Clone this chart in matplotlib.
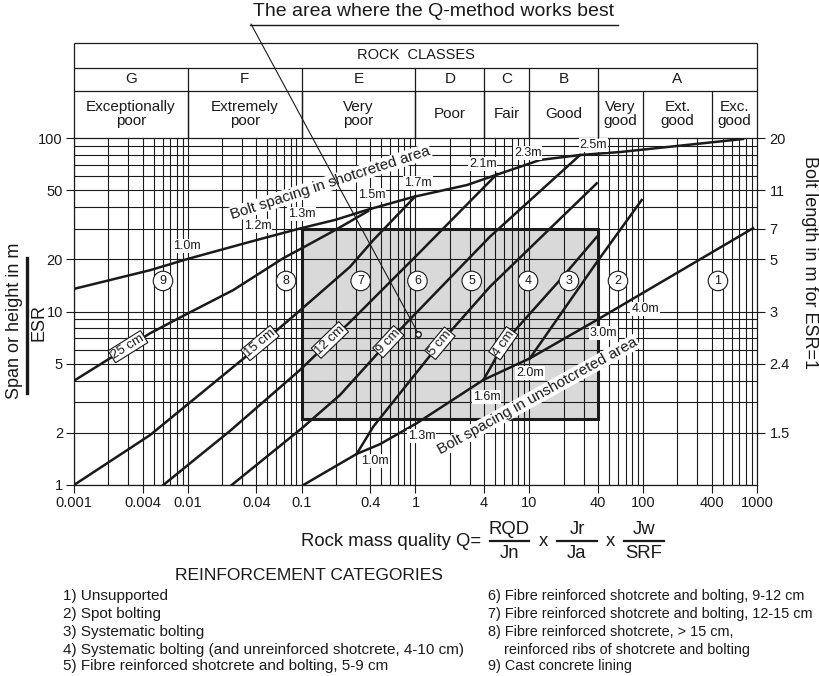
import numpy as np
import matplotlib.pyplot as plt
from matplotlib.lines import Line2D
from matplotlib.patches import Rectangle
from matplotlib.ticker import NullLocator

plt.rcParams['font.family'] = ['Liberation Sans', 'DejaVu Sans']

# ---- header (rock classes) ----
class_edges = [0.001, 0.01, 0.1, 1, 4, 10, 40, 1000]
class_letters = ['G', 'F', 'E', 'D', 'C', 'B', 'A']
desc_edges = [0.001, 0.01, 0.1, 1, 4, 10, 40, 100, 400, 1000]
desc_names = ['Exceptionally\npoor', 'Extremely\npoor', 'Very\npoor', 'Poor', 'Fair',
              'Good', 'Very\ngood', 'Ext.\ngood', 'Exc.\ngood']

# ---- axes ticks ----
q_ticks = [0.001, 0.004, 0.01, 0.04, 0.1, 0.4, 1, 4, 10, 40, 100, 400, 1000]
q_labels = ['0.001', '0.004', '0.01', '0.04', '0.1', '0.4', '1', '4', '10', '40', '100', '400', '1000']
span_ticks = [1, 2, 5, 10, 20, 50, 100]
bolt_pos = [100, 50, 30, 20, 10, 5, 2]
bolt_labels = ['20', '11', '7', '5', '3', '2.4', '1.5']

# ---- bolt spacing in shotcreted area ----
shot_q = [0.001, 0.00466, 0.01, 0.0351, 0.0966, 0.196, 0.375, 0.95, 2.84, 4.8, 12.4, 27.9, 62.6, 754]
shot_s = [13.5, 17.3, 20.1, 25.2, 30.1, 33.7, 38.5, 45.7, 53.6, 60.4, 74.7, 79.8, 83.0, 98.7]
shot_lbl = ['1.0m', '1.2m', '1.3m', '1.5m', '1.7m', '2.1m', '2.3m', '2.5m']
shot_lbl_q = [0.00977, 0.0411, 0.1, 0.412, 1.052, 3.9, 9.68, 36.5]
shot_lbl_s = [23.8, 31.1, 36.3, 46.9, 54.8, 70.8, 82.3, 91.1]

# ---- bolt spacing in unshotcreted area ----
unshot_q = [0.1034, 0.304, 0.488, 1.025, 3.94, 10.1, 39.1, 923]
unshot_s = [1.0, 1.51, 1.72, 2.27, 4.03, 5.37, 8.93, 30.2]
unshot_lbl = ['1.0m', '1.3m', '1.6m', '2.0m', '3.0m', '4.0m']
unshot_lbl_q = [0.441, 1.134, 4.22, 10.1, 44.7, 103.8]
unshot_lbl_s = [1.375, 1.924, 3.23, 4.44, 7.55, 10.3]

# ---- reinforcement category boundaries ----
b25_q = [0.001, 0.00466, 0.00977, 0.0251, 0.069, 0.1034, 0.203, 0.383]
b25_s = [3.99, 7.49, 9.67, 13.3, 20.3, 23.4, 29.8, 37.9]
b15_q = [0.001, 0.00466, 0.0351, 0.0904, 0.266, 0.426, 0.99]
b15_s = [1.0, 1.94, 5.74, 9.76, 18.1, 25.8, 45.9]
b12_q = [0.00609, 0.02347, 0.0966, 0.266, 1.095, 5.2]
b12_s = [1.0, 2.05, 4.6, 8.7, 22.0, 62.0]
b9_q = [0.0243, 0.1, 0.217, 0.577, 4.51, 27.9]
b9_s = [1.0, 2.12, 3.3, 6.7, 27.0, 79.8]
b5_q = [0.304, 0.426, 1.64, 4.51, 39.1]
b5_s = [1.51, 2.17, 6.56, 13.9, 54.8]
b4_q = [3.94, 4.7, 5.87, 7.8, 18.6, 39.1]
b4_s = [4.03, 4.92, 6.49, 8.03, 15.2, 26.9]
b3_q = [10.1, 39.3, 97.1]
b3_s = [5.37, 19.3, 43.9]

thick_lbl = ['25 cm', '15 cm', '12 cm', '9 cm', '5 cm', '4 cm']
thick_q = [0.00298, 0.0431, 0.177, 0.577, 1.64, 5.91]
thick_s = [6.27, 6.58, 6.85, 6.70, 6.56, 6.56]
thick_rot = [32, 40, 44, 47, 50, 55]

cat_num = ['9', '8', '7', '6', '5', '4', '3', '2', '1']
cat_q = [0.00605, 0.0729, 0.33, 1.04, 3.12, 9.74, 22.3, 60.1, 454]
cat_s = 15.0

# area where the Q-method works best
box_q = (0.1, 40)
box_s = (2.4, 30)
best_pt = (1.06, 7.44)

legend_left = ['1) Unsupported', '2) Spot bolting', '3) Systematic bolting',
               '4) Systematic bolting (and unreinforced shotcrete, 4-10 cm)',
               '5) Fibre reinforced shotcrete and bolting, 5-9 cm']
legend_right = ['6) Fibre reinforced shotcrete and bolting, 9-12 cm',
                '7) Fibre reinforced shotcrete and bolting, 12-15 cm',
                '8) Fibre reinforced shotcrete, > 15 cm,',
                '    reinforced ribs of shotcrete and bolting',
                '9) Cast concrete lining']

INK = '#1a1a1a'
W, H = 820, 676
fig = plt.figure(figsize=(W / 100, H / 100), dpi=100)


def fx(px):
    return px / W


def fy(py):
    return 1 - py / H


ax = fig.add_axes([fx(74), fy(485), (757 - 74) / W, (485 - 138) / H])
ax.set_xscale('log')
ax.set_yscale('log')
ax.set_xlim(0.001, 1000)
ax.set_ylim(1, 100)

# grid
for k in range(-3, 3):
    for d in range(1, 10):
        ax.axvline(d * 10.0 ** k, color=INK, lw=0.8, zorder=1)
for k in range(0, 2):
    for d in range(1, 10):
        ax.axhline(d * 10.0 ** k, color=INK, lw=0.8, zorder=1)

# grey box
ax.add_patch(Rectangle((box_q[0], box_s[0]), box_q[1] - box_q[0], box_s[1] - box_s[0],
                       facecolor='#d9d9d9', edgecolor='none', zorder=0.5))
ax.add_patch(Rectangle((box_q[0], box_s[0]), box_q[1] - box_q[0], box_s[1] - box_s[0],
                       facecolor='none', edgecolor=INK, lw=2.2, zorder=2.5))

lw = 1.8
ax.plot(shot_q, shot_s, color=INK, lw=lw, zorder=3)
ax.plot(unshot_q, unshot_s, color=INK, lw=lw, zorder=3)
for q, s in [(b25_q, b25_s), (b15_q, b15_s), (b12_q, b12_s), (b9_q, b9_s),
             (b5_q, b5_s), (b4_q, b4_s), (b3_q, b3_s)]:
    ax.plot(q, s, color=INK, lw=lw, zorder=3)

wb = dict(facecolor='white', edgecolor='none', pad=0.6)
for t, q, s in zip(shot_lbl, shot_lbl_q, shot_lbl_s):
    ax.text(q, s, t, fontsize=9, ha='center', va='center', color=INK, bbox=wb, zorder=5)
for t, q, s in zip(unshot_lbl, unshot_lbl_q, unshot_lbl_s):
    ax.text(q, s, t, fontsize=9, ha='center', va='center', color=INK, bbox=wb, zorder=5)

for t, q, s, r in zip(thick_lbl, thick_q, thick_s, thick_rot):
    ax.text(q, s, t, fontsize=9.5, ha='center', va='center', rotation=r,
            rotation_mode='anchor', color=INK, zorder=6,
            bbox=dict(facecolor='white', edgecolor=INK, lw=0.8, pad=0.8))

for t, q in zip(cat_num, cat_q):
    ax.text(q, cat_s, t, fontsize=9, ha='center', va='center', color=INK, zorder=6,
            bbox=dict(boxstyle='circle,pad=0.3', facecolor='white', edgecolor=INK, lw=0.8))

ax.text(0.179, 55.2, 'Bolt spacing in shotcreted area', fontsize=11, rotation=18,
        rotation_mode='anchor', ha='center', va='center', color=INK, zorder=6,
        bbox=dict(facecolor='white', edgecolor='none', pad=0.5))
ax.text(11.87, 3.27, 'Bolt spacing in unshotcreted area', fontsize=11, rotation=29,
        rotation_mode='anchor', ha='center', va='center', color=INK, zorder=6,
        bbox=dict(facecolor='white', edgecolor='none', pad=0.5))

# pointer to the best area
ax.annotate('', xy=best_pt, xycoords='data', xytext=(251, H - 24), textcoords='figure pixels',
            arrowprops=dict(arrowstyle='-', lw=0.8, color=INK, shrinkA=0, shrinkB=0),
            annotation_clip=False, zorder=7)
ax.plot(*best_pt, 'o', ms=4, mfc='white', mec=INK, mew=1, zorder=8)

# ticks
ax.set_xticks(q_ticks)
ax.set_xticklabels(q_labels)
ax.set_yticks(span_ticks)
ax.set_yticklabels([str(v) for v in span_ticks])
ax.xaxis.set_minor_locator(NullLocator())
ax.yaxis.set_minor_locator(NullLocator())
ax.tick_params(direction='out', length=6, width=0.8, labelsize=10.5, colors=INK, pad=2)
for sp in ax.spines.values():
    sp.set_linewidth(0.9)
    sp.set_color(INK)

ax2 = ax.twinx()
ax2.set_yscale('log')
ax2.set_ylim(1, 100)
ax2.set_yticks(bolt_pos)
ax2.set_yticklabels(bolt_labels)
ax2.yaxis.set_minor_locator(NullLocator())
ax2.tick_params(direction='out', length=6, width=0.8, labelsize=10.5, colors=INK, pad=3)
for sp in ax2.spines.values():
    sp.set_visible(False)

# header table
axh = fig.add_axes([fx(74), fy(138), (757 - 74) / W, (138 - 42.7) / H])
axh.set_xscale('log')
axh.set_xlim(0.001, 1000)
axh.set_ylim(95.3, 0)
axh.axis('off')
lk = dict(color=INK, lw=0.9, clip_on=False)
axh.hlines([0, 25.3, 48], 0.001, 1000, **lk)
axh.vlines([0.001, 1000], 0, 95.3, **lk)
axh.vlines(class_edges[1:-1], 25.3, 95.3, **lk)
axh.vlines(desc_edges[1:-1], 48, 95.3, **lk)
axh.text(1, 12.7, 'ROCK  CLASSES', ha='center', va='center', fontsize=10.5, color=INK)
for i, t in enumerate(class_letters):
    axh.text(np.sqrt(class_edges[i] * class_edges[i + 1]), 36.7, t, ha='center', va='center',
             fontsize=11, color=INK)
for i, t in enumerate(desc_names):
    axh.text(np.sqrt(desc_edges[i] * desc_edges[i + 1]), 71.5, t, ha='center', va='center',
             fontsize=11, color=INK, linespacing=1.05)

# title with underline
fig.text(fx(434), fy(12), 'The area where the Q-method works best', ha='center', va='center',
         fontsize=14, color=INK)
fig.add_artist(Line2D([fx(250), fx(618)], [fy(24.5), fy(24.5)], color=INK, lw=1.0))

# left label as fraction
fig.text(fx(15), fy(321), 'Span or height in m', rotation=90, ha='center', va='center',
         fontsize=13, color=INK)
fig.add_artist(Line2D([fx(27), fx(27)], [fy(258), fy(393)], color=INK, lw=2.4))
fig.text(fx(39.5), fy(323), 'ESR', rotation=90, ha='center', va='center', fontsize=13, color=INK)

fig.text(fx(810), fy(262), 'Bolt length in m for ESR=1', rotation=-90, ha='center', va='center',
         fontsize=13, color=INK)

# Q formula
fs = 13.3
fig.text(fx(481), fy(542), 'Rock mass quality Q=', ha='right', va='center', fontsize=fs, color=INK)
for num, den, x0, x1 in [('RQD', 'Jn', 490, 529), ('Jr', 'Ja', 557, 597), ('Jw', 'SRF', 624, 664)]:
    xc = (x0 + x1) / 2
    fig.text(fx(xc), fy(530), num, ha='center', va='center', fontsize=fs, color=INK)
    fig.text(fx(xc), fy(553), den, ha='center', va='center', fontsize=fs, color=INK)
    fig.add_artist(Line2D([fx(x0), fx(x1)], [fy(541), fy(541)], color=INK, lw=1.6))
fig.text(fx(543), fy(541), 'x', ha='center', va='center', fontsize=fs, color=INK)
fig.text(fx(610), fy(541), 'x', ha='center', va='center', fontsize=fs, color=INK)

fig.text(fx(309), fy(575), 'REINFORCEMENT CATEGORIES', ha='center', va='center',
         fontsize=12.5, color=INK)
rows = [596, 614, 632, 650, 666]
for t, y in zip(legend_left, rows):
    fig.text(fx(63), fy(y), t, ha='left', va='center', fontsize=11, color=INK)
for t, y in zip(legend_right, rows):
    fig.text(fx(488), fy(y), t, ha='left', va='center', fontsize=10.4, color=INK)

fig.savefig('out.png', dpi=100)
